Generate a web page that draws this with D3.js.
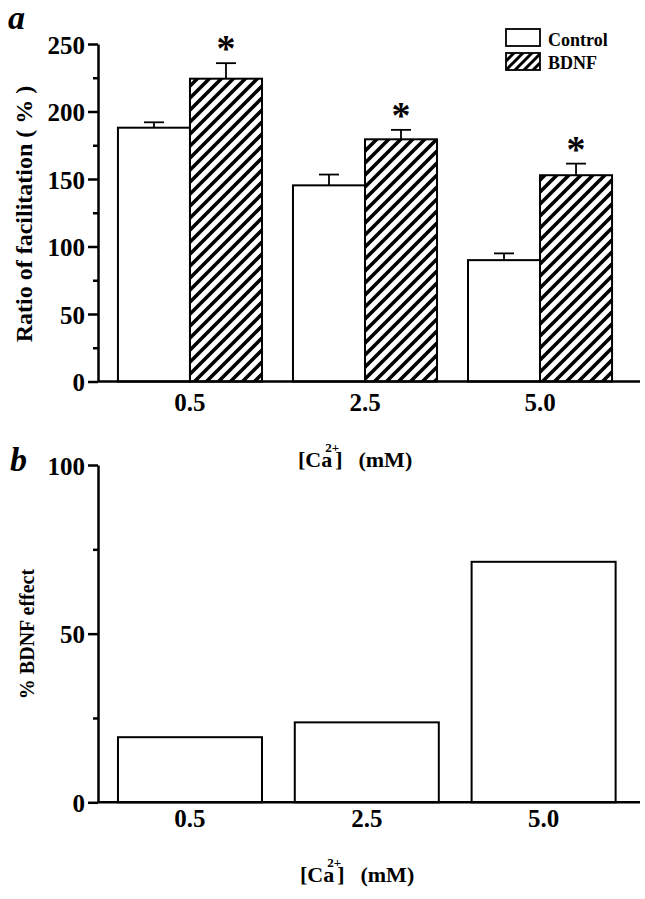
<!DOCTYPE html>
<html><head><meta charset="utf-8">
<script src="https://cdn.jsdelivr.net/npm/d3@7"></script>
<style>
body{margin:0;background:#fff}
text{font-family:"Liberation Serif","Times New Roman",serif;font-weight:bold;fill:#000}
</style>
</head><body><svg id="c" width="645" height="899"></svg>
<script>
// ---- data ----
const categories = ["0.5", "2.5", "5.0"];
const seriesNames = ["Control", "BDNF"];
const controlMean = [188, 145.3, 89.9];
const controlErr = [4, 8, 5];
const bdnfMean = [224.3, 179.4, 152.8];
const bdnfErr = [11.5, 7, 8.6];
const significant = [true, true, true];
const bdnfEffect = [19.3, 23.7, 71.3];
const ticksA = [0, 50, 100, 150, 200, 250];
const minorA = [25, 75, 125, 175, 225];
const ticksB = [0, 50, 100];
const minorB = [25, 75];

const svg = d3.select("#c");
const defs = svg.append("defs");
function hatch(id, s, w) {
  const p = defs.append("pattern").attr("id", id).attr("patternUnits", "userSpaceOnUse")
    .attr("width", s).attr("height", s);
  p.append("rect").attr("width", s).attr("height", s).attr("fill", "#fff");
  p.append("path").attr("d", `M0,${s} L${s},0 M${-s/2},${s/2} L${s/2},${-s/2} M${s/2},${s*1.5} L${s*1.5},${s/2}`)
    .attr("stroke", "#000").attr("stroke-width", w).attr("stroke-linecap", "square");
}
hatch("h1", 12, 3.6);
hatch("h2", 9, 3);

const axX = 98;
function yAxis(g, y, major, minor) {
  g.append("g").attr("transform", `translate(${axX},0)`)
    .call(d3.axisLeft(y).tickValues(major).tickSize(10).tickSizeOuter(0).tickPadding(3).tickFormat(d3.format("d")))
    .call(a => a.selectAll("text").style("font-size", "25px").attr("dy", "0.36em"))
    .call(a => a.selectAll("line,path").attr("stroke", "#000").attr("stroke-width", 2.5));
  g.append("g").attr("transform", `translate(${axX},0)`)
    .call(d3.axisLeft(y).tickValues(minor).tickSize(5).tickSizeOuter(0).tickFormat(""))
    .call(a => a.select(".domain").remove())
    .call(a => a.selectAll("line").attr("stroke", "#000").attr("stroke-width", 2.5));
}
function caLabel(x, yb) {
  const t = svg.append("text").attr("x", x).attr("y", yb).style("font-size", "22px");
  t.append("tspan").text("[Ca");
  t.append("tspan").attr("dx", -7).attr("dy", -15).style("font-size", "13px").text("2+");
  t.append("tspan").attr("dx", -4).attr("dy", 15).text("]");
  t.append("tspan").attr("dx", 16).text("(mM)");
}

// ---- panel a ----
const yA = d3.scaleLinear().domain([0, 250]).range([381.5, 44]);
const xA = d3.scaleBand().domain(categories).range([axX, 632]).paddingInner(0.177).paddingOuter(0.114);
const xA1 = d3.scaleBand().domain(seriesNames).range([0, xA.bandwidth()]);
const gA = svg.append("g");

const rowsA = categories.map((c, i) => ({c, vals: [
  {s: "Control", m: controlMean[i], e: controlErr[i], sig: false},
  {s: "BDNF", m: bdnfMean[i], e: bdnfErr[i], sig: significant[i]}]}));

rowsA.forEach(r => {
  r.vals.forEach(v => {
    const x0 = xA(r.c) + xA1(v.s), w = xA1.bandwidth(), cx = x0 + w / 2;
    gA.append("line").attr("x1", cx).attr("x2", cx).attr("y1", yA(v.m)).attr("y2", yA(v.m + v.e))
      .attr("stroke", "#000").attr("stroke-width", 1.8);
    gA.append("line").attr("x1", cx - 10).attr("x2", cx + 10).attr("y1", yA(v.m + v.e)).attr("y2", yA(v.m + v.e))
      .attr("stroke", "#000").attr("stroke-width", 1.8);
    gA.append("rect").attr("x", x0).attr("y", yA(v.m)).attr("width", w).attr("height", yA(0) - yA(v.m))
      .attr("fill", v.s === "BDNF" ? "url(#h1)" : "#fff").attr("stroke", "#000").attr("stroke-width", 2);
    if (v.sig) gA.append("text").attr("x", cx).attr("y", yA(v.m + v.e) - 2).attr("text-anchor", "middle")
      .style("font-size", "38px").text("*");
  });
});
yAxis(gA, yA, ticksA, minorA);
gA.append("line").attr("x1", axX).attr("x2", 640).attr("y1", yA(0)).attr("y2", yA(0)).attr("stroke", "#000").attr("stroke-width", 2.5);
categories.forEach(c => gA.append("text").attr("x", xA(c) + xA.bandwidth() / 2).attr("y", 411).attr("text-anchor", "middle").style("font-size", "25px").text(c));
gA.append("text").attr("transform", `translate(32,214) rotate(-90)`).attr("text-anchor", "middle").style("font-size", "24px")
  .attr("xml:space", "preserve").text("Ratio of facilitation ( % )");
caLabel(298, 467);
svg.append("text").attr("x", 8).attr("y", 29).style("font-size", "34px").style("font-style", "italic").text("a");

// legend
seriesNames.forEach((s, i) => {
  svg.append("rect").attr("x", 506).attr("y", 29 + i * 24).attr("width", 34).attr("height", 17)
    .attr("fill", s === "BDNF" ? "url(#h2)" : "#fff").attr("stroke", "#000").attr("stroke-width", 1.8);
  svg.append("text").attr("x", 548).attr("y", 46 + i * 23).style("font-size", "18px").text(s);
});

// ---- panel b ----
const yB = d3.scaleLinear().domain([0, 100]).range([802.3, 465]);
const xB = d3.scaleBand().domain(categories).range([axX, 635.6]).paddingInner(0.1855).paddingOuter(0.113);
const gB = svg.append("g");
categories.forEach((c, i) => {
  gB.append("rect").attr("x", xB(c)).attr("y", yB(bdnfEffect[i])).attr("width", xB.bandwidth()).attr("height", yB(0) - yB(bdnfEffect[i]))
    .attr("fill", "#fff").attr("stroke", "#000").attr("stroke-width", 2);
  gB.append("text").attr("x", xB(c) + xB.bandwidth() / 2).attr("y", 827).attr("text-anchor", "middle").style("font-size", "25px").text(c);
});
yAxis(gB, yB, ticksB, minorB);
gB.append("line").attr("x1", axX).attr("x2", 640).attr("y1", yB(0)).attr("y2", yB(0)).attr("stroke", "#000").attr("stroke-width", 2.5);
gB.append("text").attr("transform", `translate(34,634) rotate(-90)`).attr("text-anchor", "middle").style("font-size", "20px").text("% BDNF effect");
caLabel(300, 882);
svg.append("text").attr("x", 10).attr("y", 471).style("font-size", "34px").style("font-style", "italic").text("b");
</script></body></html>
